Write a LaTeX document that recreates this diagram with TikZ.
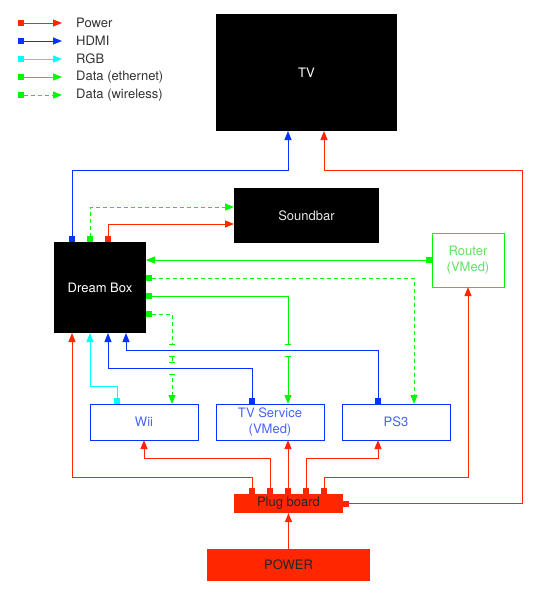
\documentclass[tikz,border=0pt]{standalone}
\usepackage{fontspec}
\setmainfont{TeX Gyre Heros}
\usetikzlibrary{arrows.meta,calc}
\definecolor{pw}{RGB}{255,38,0}
\definecolor{hd}{RGB}{4,51,255}
\definecolor{rg}{RGB}{0,253,255}
\definecolor{gn}{RGB}{0,249,0}
\definecolor{txt}{RGB}{51,51,51}
\definecolor{btxt}{RGB}{70,100,255}
\definecolor{gtxt}{RGB}{100,225,100}
\tikzset{
  arr/.style={-{Triangle[length=9pt,width=7pt]}},
  sqarr/.style={{Square[length=6pt]}-{Triangle[length=9pt,width=7pt]}},
  sqonly/.style={{Square[length=6pt]}-},
  pline/.style={draw=pw, line width=1pt},
  hline/.style={draw=hd, line width=1pt},
  rline/.style={draw=rg, line width=1pt},
  eline/.style={draw=gn, line width=1pt},
  wline/.style={draw=gn, line width=1pt, dash pattern=on 4pt off 3pt},
  blk/.style={fill=black, text=white, inner sep=0pt, outer sep=0pt, align=center},
  gbox/.style={draw=gn, line width=1pt, fill=white, text=gtxt, inner sep=0pt, outer sep=0pt, align=center, minimum width=72pt, minimum height=54pt},
  bbox/.style={draw=hd, line width=1pt, fill=white, text=btxt, inner sep=0pt, outer sep=0pt, align=center, minimum width=108pt, minimum height=36pt},
  rbox/.style={fill=pw, text=black!85, inner sep=0pt, outer sep=0pt, align=center},
  legend/.style={anchor=west, inner sep=0pt, text=txt},
  gapfill/.style={fill=white},
  tick/.style={draw=gn, line width=0.8pt}
}
\begin{document}
\begin{tikzpicture}[x=1pt,y=-1pt,font=\fontsize{13pt}{16.5pt}\selectfont]
\useasboundingbox (0,0) rectangle (559,597);

% legend
\coordinate (l1a) at (18,23); \coordinate (l1b) at (62,23);
\coordinate (l2a) at (18,41); \coordinate (l2b) at (62,41);
\coordinate (l3a) at (18,59); \coordinate (l3b) at (62,59);
\coordinate (l4a) at (18,77); \coordinate (l4b) at (62,77);
\coordinate (l5a) at (18,95); \coordinate (l5b) at (62,95);
\draw[pline, sqarr] (l1a) -- (l1b);
\draw[hline, sqarr] (l2a) -- (l2b);
\draw[rline, sqarr] (l3a) -- (l3b);
\draw[eline, sqarr] (l4a) -- (l4b);
\draw[wline, sqarr] (l5a) -- (l5b);
\node[legend] (t1) at (76,23) {Power};
\node[legend] (t2) at (76,41) {HDMI};
\node[legend] (t3) at (76,59) {RGB};
\node[legend] (t4) at (76,77) {Data (ethernet)};
\node[legend] (t5) at (76,95) {Data (wireless)};

% nodes
\node[blk, minimum width=181pt, minimum height=117pt] (tv) at (306.5,72.5) {TV};
\node[blk, minimum width=145pt, minimum height=55pt, text=black!10] (sb) at (306.5,215.5) {Soundbar};
\node[blk, minimum width=92pt, minimum height=91pt] (db) at (100,287.5) {Dream Box};
\node[gbox] (rt) at (468,260) {Router\\(VMed)};
\node[bbox] (wii) at (144,422) {Wii};
\node[bbox] (tvs) at (270,422) {TV Service\\(VMed)};
\node[bbox] (ps3) at (396,422) {PS3};
\node[rbox, minimum width=109pt, minimum height=19pt] (plug) at (288.5,503.5) {Plug board};
\node[rbox, minimum width=163pt, minimum height=32pt] (pwr) at (288.5,565) {POWER};

% Dream Box -> TV (HDMI)
\draw[hline, sqarr] ([xshift=18pt]db.north west) |- ([xshift=-18.5pt,yshift=-39pt]tv.south) -- ([xshift=-18.5pt]tv.south);
% Dream Box -> Soundbar
\draw[wline, sqarr] ([xshift=36pt]db.north west) |- ([yshift=8.5pt]sb.west);
\draw[pline, sqarr] ([xshift=54pt]db.north west) |- ([yshift=-8.5pt]sb.west);
% Router -> Dream Box
\draw[eline, sqarr] (rt.west) -- (rt.west -| db.east);
% Dream Box -> PS3 (wireless)
\draw[wline, sqarr] ([yshift=-36pt]db.north east) -| ([xshift=18pt]ps3.north);
% Dream Box -> TV Service (ethernet)
\draw[eline, sqarr] ([yshift=-54pt]db.north east) -| ([xshift=18pt]tvs.north);
% Dream Box -> Wii (wireless)
\draw[wline, sqarr] ([yshift=-72pt]db.north east) -| ([xshift=28pt]wii.north);

% gaps where the HDMI lines cross the data lines
\fill[gapfill] (284,344.5) rectangle (292,356);
\draw[tick] (285,344.5) -- (291,344.5);
\draw[tick] (285,356) -- (291,356);
\fill[gapfill] (168,344.5) rectangle (176,356);
\fill[gapfill] (168,362.5) rectangle (176,374);
\draw[tick] (169,344.5) -- (175,344.5);
\draw[tick] (169,356) -- (175,356);
\draw[tick] (169,362.5) -- (175,362.5);
\draw[tick] (169,374) -- (175,374);

% HDMI / RGB into Dream Box
\draw[hline, sqarr] ([xshift=-18pt]ps3.north) |- ([xshift=72pt,yshift=-17pt]db.south west) -- ([xshift=72pt]db.south west);
\draw[hline, sqarr] ([xshift=-18pt]tvs.north) |- ([xshift=54pt,yshift=-35pt]db.south west) -- ([xshift=54pt]db.south west);
\draw[rline, sqarr] ([xshift=-27pt]wii.north) |- ([xshift=36pt,yshift=-53pt]db.south west) -- ([xshift=36pt]db.south west);

% Power from plug board
\draw[pline, sqarr] ([xshift=18pt]plug.north west) |- ([xshift=18pt,yshift=-144pt]db.south west) -- ([xshift=18pt]db.south west);
\draw[pline, sqarr] ([xshift=36pt]plug.north west) |- ([yshift=-18pt]wii.south) -- (wii.south);
\draw[pline, sqarr] ([xshift=54pt]plug.north west) -- ([xshift=18pt]tvs.south);
\draw[pline, sqarr] ([xshift=72pt]plug.north west) |- ([xshift=-18pt,yshift=-18pt]ps3.south) -- ([xshift=-18pt]ps3.south);
\draw[pline, sqarr] ([xshift=90pt]plug.north west) |- ([yshift=-190pt]rt.south) -- (rt.south);
\coordinate (c1) at (522,170);
\draw[pline, sqarr] (plug.east) -| (c1) -| ([xshift=17.5pt]tv.south);
\draw[pline, arr] (pwr.north) -- (plug.south);
\end{tikzpicture}
\end{document}
